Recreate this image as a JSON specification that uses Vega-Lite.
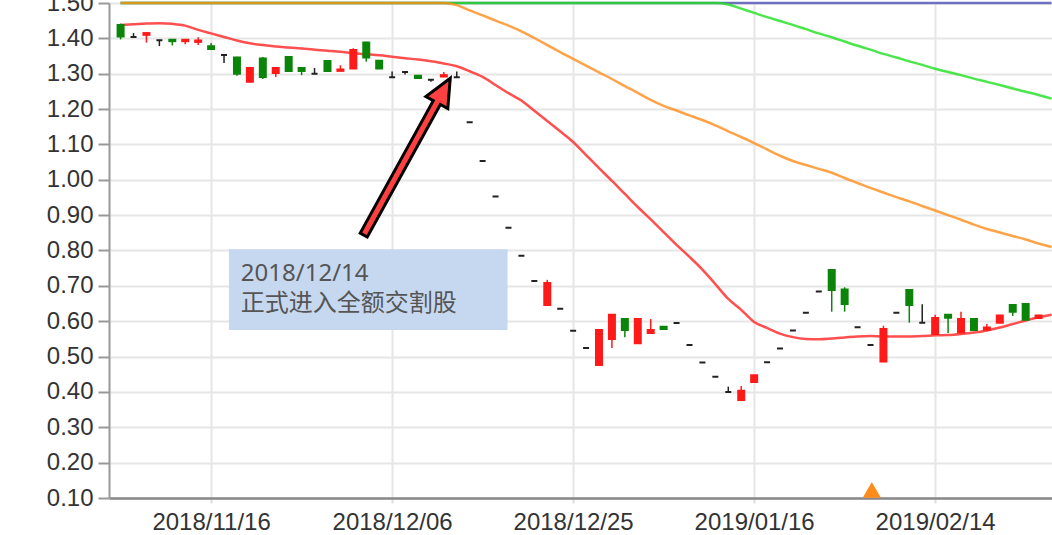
{
  "$schema": "https://vega.github.io/schema/vega-lite/v6.json",
  "width": 943,
  "height": 495,
  "autosize": {"type": "none"},
  "padding": {"left": 109, "top": 3, "right": 0, "bottom": 37},
  "background": "white",
  "config": {
    "view": {"stroke": null},
    "axisY": {
      "title": null,
      "grid": true,
      "gridColor": "#e6e6e6",
      "gridWidth": 2,
      "domainColor": "#999999",
      "domainWidth": 2,
      "tickColor": "#999999",
      "tickSize": 11,
      "tickWidth": 2,
      "labelFont": "Liberation Sans",
      "labelFontSize": 24,
      "labelColor": "#333333",
      "labelPadding": 5,
      "format": ".2f"
    }
  },
  "datasets": {
    "k": [
      {"date":"2018/11/07","i":0,"open":1.438,"high":1.442,"low":1.397,"close":1.405,"ma20":1.438,"ma60":1.640,"ma120":1.784,"ma240":1.950},
      {"date":"2018/11/08","i":1,"open":1.404,"high":1.415,"low":1.404,"close":1.404,"ma20":1.440,"ma60":1.635,"ma120":1.778,"ma240":1.948},
      {"date":"2018/11/09","i":2,"open":1.410,"high":1.415,"low":1.388,"close":1.415,"ma20":1.442,"ma60":1.630,"ma120":1.772,"ma240":1.947},
      {"date":"2018/11/12","i":3,"open":1.395,"high":1.395,"low":1.378,"close":1.395,"ma20":1.443,"ma60":1.625,"ma120":1.766,"ma240":1.945},
      {"date":"2018/11/13","i":4,"open":1.396,"high":1.396,"low":1.380,"close":1.392,"ma20":1.441,"ma60":1.620,"ma120":1.760,"ma240":1.944},
      {"date":"2018/11/14","i":5,"open":1.392,"high":1.396,"low":1.383,"close":1.396,"ma20":1.436,"ma60":1.615,"ma120":1.754,"ma240":1.942},
      {"date":"2018/11/15","i":6,"open":1.390,"high":1.403,"low":1.381,"close":1.394,"ma20":1.424,"ma60":1.610,"ma120":1.748,"ma240":1.941},
      {"date":"2018/11/16","i":7,"open":1.378,"high":1.387,"low":1.370,"close":1.370,"ma20":1.414,"ma60":1.605,"ma120":1.742,"ma240":1.939},
      {"date":"2018/11/19","i":8,"open":1.353,"high":1.353,"low":1.330,"close":1.353,"ma20":1.404,"ma60":1.600,"ma120":1.736,"ma240":1.938},
      {"date":"2018/11/20","i":9,"open":1.346,"high":1.348,"low":1.294,"close":1.300,"ma20":1.394,"ma60":1.595,"ma120":1.730,"ma240":1.936},
      {"date":"2018/11/21","i":10,"open":1.277,"high":1.316,"low":1.275,"close":1.316,"ma20":1.386,"ma60":1.590,"ma120":1.724,"ma240":1.935},
      {"date":"2018/11/22","i":11,"open":1.343,"high":1.347,"low":1.285,"close":1.291,"ma20":1.381,"ma60":1.585,"ma120":1.718,"ma240":1.933},
      {"date":"2018/11/23","i":12,"open":1.302,"high":1.316,"low":1.291,"close":1.316,"ma20":1.377,"ma60":1.580,"ma120":1.712,"ma240":1.932},
      {"date":"2018/11/26","i":13,"open":1.347,"high":1.349,"low":1.305,"close":1.308,"ma20":1.374,"ma60":1.575,"ma120":1.706,"ma240":1.930},
      {"date":"2018/11/27","i":14,"open":1.316,"high":1.316,"low":1.296,"close":1.308,"ma20":1.371,"ma60":1.570,"ma120":1.700,"ma240":1.929},
      {"date":"2018/11/28","i":15,"open":1.300,"high":1.316,"low":1.300,"close":1.300,"ma20":1.368,"ma60":1.565,"ma120":1.694,"ma240":1.927},
      {"date":"2018/11/29","i":16,"open":1.336,"high":1.338,"low":1.305,"close":1.308,"ma20":1.365,"ma60":1.560,"ma120":1.688,"ma240":1.926},
      {"date":"2018/11/30","i":17,"open":1.308,"high":1.324,"low":1.308,"close":1.312,"ma20":1.362,"ma60":1.555,"ma120":1.682,"ma240":1.924},
      {"date":"2018/12/03","i":18,"open":1.315,"high":1.372,"low":1.315,"close":1.367,"ma20":1.358,"ma60":1.550,"ma120":1.676,"ma240":1.923},
      {"date":"2018/12/04","i":19,"open":1.388,"high":1.390,"low":1.334,"close":1.346,"ma20":1.355,"ma60":1.545,"ma120":1.670,"ma240":1.921},
      {"date":"2018/12/05","i":20,"open":1.337,"high":1.337,"low":1.315,"close":1.315,"ma20":1.352,"ma60":1.540,"ma120":1.664,"ma240":1.920},
      {"date":"2018/12/06","i":21,"open":1.290,"high":1.306,"low":1.290,"close":1.290,"ma20":1.348,"ma60":1.535,"ma120":1.658,"ma240":1.918},
      {"date":"2018/12/07","i":22,"open":1.305,"high":1.307,"low":1.298,"close":1.305,"ma20":1.344,"ma60":1.530,"ma120":1.652,"ma240":1.917},
      {"date":"2018/12/10","i":23,"open":1.294,"high":1.294,"low":1.288,"close":1.288,"ma20":1.340,"ma60":1.525,"ma120":1.646,"ma240":1.915},
      {"date":"2018/12/11","i":24,"open":1.283,"high":1.285,"low":1.277,"close":1.283,"ma20":1.335,"ma60":1.518,"ma120":1.640,"ma240":1.914},
      {"date":"2018/12/12","i":25,"open":1.292,"high":1.305,"low":1.291,"close":1.296,"ma20":1.329,"ma60":1.508,"ma120":1.634,"ma240":1.912},
      {"date":"2018/12/13","i":26,"open":1.290,"high":1.306,"low":1.290,"close":1.290,"ma20":1.321,"ma60":1.494,"ma120":1.628,"ma240":1.911},
      {"date":"2018/12/14","i":27,"open":1.163,"high":1.163,"low":1.163,"close":1.163,"ma20":1.307,"ma60":1.479,"ma120":1.622,"ma240":1.909},
      {"date":"2018/12/17","i":28,"open":1.053,"high":1.053,"low":1.053,"close":1.053,"ma20":1.291,"ma60":1.465,"ma120":1.616,"ma240":1.908},
      {"date":"2018/12/18","i":29,"open":0.953,"high":0.953,"low":0.953,"close":0.953,"ma20":1.268,"ma60":1.450,"ma120":1.610,"ma240":1.906},
      {"date":"2018/12/19","i":30,"open":0.864,"high":0.864,"low":0.864,"close":0.864,"ma20":1.245,"ma60":1.436,"ma120":1.604,"ma240":1.905},
      {"date":"2018/12/20","i":31,"open":0.785,"high":0.785,"low":0.785,"close":0.785,"ma20":1.224,"ma60":1.420,"ma120":1.598,"ma240":1.903},
      {"date":"2018/12/21","i":32,"open":0.714,"high":0.714,"low":0.714,"close":0.714,"ma20":1.195,"ma60":1.401,"ma120":1.592,"ma240":1.902},
      {"date":"2018/12/22","i":33,"open":0.646,"high":0.717,"low":0.646,"close":0.708,"ma20":1.166,"ma60":1.381,"ma120":1.586,"ma240":1.900},
      {"date":"2018/12/24","i":34,"open":0.635,"high":0.635,"low":0.635,"close":0.635,"ma20":1.137,"ma60":1.361,"ma120":1.580,"ma240":1.899},
      {"date":"2018/12/25","i":35,"open":0.573,"high":0.573,"low":0.573,"close":0.573,"ma20":1.107,"ma60":1.342,"ma120":1.574,"ma240":1.897},
      {"date":"2018/12/26","i":36,"open":0.524,"high":0.524,"low":0.524,"close":0.524,"ma20":1.070,"ma60":1.323,"ma120":1.568,"ma240":1.896},
      {"date":"2018/12/27","i":37,"open":0.476,"high":0.575,"low":0.476,"close":0.575,"ma20":1.033,"ma60":1.304,"ma120":1.562,"ma240":1.894},
      {"date":"2018/12/28","i":38,"open":0.550,"high":0.620,"low":0.524,"close":0.618,"ma20":0.997,"ma60":1.285,"ma120":1.556,"ma240":1.893},
      {"date":"2019/01/02","i":39,"open":0.606,"high":0.606,"low":0.555,"close":0.575,"ma20":0.960,"ma60":1.265,"ma120":1.550,"ma240":1.891},
      {"date":"2019/01/03","i":40,"open":0.538,"high":0.606,"low":0.538,"close":0.606,"ma20":0.923,"ma60":1.246,"ma120":1.544,"ma240":1.890},
      {"date":"2019/01/04","i":41,"open":0.567,"high":0.606,"low":0.567,"close":0.575,"ma20":0.888,"ma60":1.226,"ma120":1.538,"ma240":1.888},
      {"date":"2019/01/07","i":42,"open":0.584,"high":0.584,"low":0.578,"close":0.578,"ma20":0.852,"ma60":1.209,"ma120":1.532,"ma240":1.887},
      {"date":"2019/01/08","i":43,"open":0.595,"high":0.595,"low":0.595,"close":0.595,"ma20":0.816,"ma60":1.196,"ma120":1.526,"ma240":1.885},
      {"date":"2019/01/09","i":44,"open":0.533,"high":0.533,"low":0.533,"close":0.533,"ma20":0.782,"ma60":1.182,"ma120":1.520,"ma240":1.884},
      {"date":"2019/01/10","i":45,"open":0.483,"high":0.483,"low":0.483,"close":0.483,"ma20":0.746,"ma60":1.169,"ma120":1.514,"ma240":1.882},
      {"date":"2019/01/11","i":46,"open":0.443,"high":0.443,"low":0.443,"close":0.443,"ma20":0.705,"ma60":1.154,"ma120":1.508,"ma240":1.881},
      {"date":"2019/01/14","i":47,"open":0.400,"high":0.415,"low":0.400,"close":0.400,"ma20":0.663,"ma60":1.137,"ma120":1.496,"ma240":1.879},
      {"date":"2019/01/15","i":48,"open":0.377,"high":0.417,"low":0.377,"close":0.403,"ma20":0.632,"ma60":1.121,"ma120":1.484,"ma240":1.878},
      {"date":"2019/01/16","i":49,"open":0.428,"high":0.448,"low":0.428,"close":0.447,"ma20":0.598,"ma60":1.104,"ma120":1.472,"ma240":1.876},
      {"date":"2019/01/17","i":50,"open":0.484,"high":0.484,"low":0.484,"close":0.484,"ma20":0.581,"ma60":1.086,"ma120":1.460,"ma240":1.875},
      {"date":"2019/01/18","i":51,"open":0.523,"high":0.523,"low":0.523,"close":0.523,"ma20":0.565,"ma60":1.068,"ma120":1.449,"ma240":1.873},
      {"date":"2019/01/21","i":52,"open":0.574,"high":0.574,"low":0.574,"close":0.574,"ma20":0.555,"ma60":1.053,"ma120":1.438,"ma240":1.872},
      {"date":"2019/01/22","i":53,"open":0.624,"high":0.624,"low":0.624,"close":0.624,"ma20":0.550,"ma60":1.042,"ma120":1.426,"ma240":1.870},
      {"date":"2019/01/23","i":54,"open":0.684,"high":0.684,"low":0.684,"close":0.684,"ma20":0.549,"ma60":1.031,"ma120":1.414,"ma240":1.869},
      {"date":"2019/01/24","i":55,"open":0.745,"high":0.745,"low":0.627,"close":0.688,"ma20":0.551,"ma60":1.020,"ma120":1.403,"ma240":1.867},
      {"date":"2019/01/25","i":56,"open":0.690,"high":0.696,"low":0.627,"close":0.649,"ma20":0.554,"ma60":1.005,"ma120":1.391,"ma240":1.866},
      {"date":"2019/01/28","i":57,"open":0.583,"high":0.583,"low":0.583,"close":0.583,"ma20":0.557,"ma60":0.991,"ma120":1.379,"ma240":1.864},
      {"date":"2019/01/29","i":58,"open":0.533,"high":0.533,"low":0.533,"close":0.533,"ma20":0.558,"ma60":0.977,"ma120":1.368,"ma240":1.863},
      {"date":"2019/01/30","i":59,"open":0.486,"high":0.587,"low":0.486,"close":0.578,"ma20":0.557,"ma60":0.964,"ma120":1.356,"ma240":1.861},
      {"date":"2019/02/11","i":60,"open":0.624,"high":0.624,"low":0.624,"close":0.624,"ma20":0.557,"ma60":0.951,"ma120":1.346,"ma240":1.860},
      {"date":"2019/02/12","i":61,"open":0.688,"high":0.690,"low":0.596,"close":0.646,"ma20":0.557,"ma60":0.939,"ma120":1.335,"ma240":1.858},
      {"date":"2019/02/13","i":62,"open":0.596,"high":0.648,"low":0.596,"close":0.596,"ma20":0.558,"ma60":0.926,"ma120":1.325,"ma240":1.857},
      {"date":"2019/02/14","i":63,"open":0.564,"high":0.618,"low":0.564,"close":0.609,"ma20":0.560,"ma60":0.913,"ma120":1.314,"ma240":1.855},
      {"date":"2019/02/15","i":64,"open":0.618,"high":0.618,"low":0.567,"close":0.610,"ma20":0.561,"ma60":0.900,"ma120":1.305,"ma240":1.854},
      {"date":"2019/02/18","i":65,"open":0.568,"high":0.627,"low":0.568,"close":0.606,"ma20":0.564,"ma60":0.887,"ma120":1.296,"ma240":1.852},
      {"date":"2019/02/19","i":66,"open":0.606,"high":0.606,"low":0.575,"close":0.575,"ma20":0.568,"ma60":0.873,"ma120":1.286,"ma240":1.851},
      {"date":"2019/02/20","i":67,"open":0.576,"high":0.592,"low":0.576,"close":0.582,"ma20":0.574,"ma60":0.861,"ma120":1.277,"ma240":1.849},
      {"date":"2019/02/21","i":68,"open":0.596,"high":0.616,"low":0.596,"close":0.616,"ma20":0.582,"ma60":0.851,"ma120":1.268,"ma240":1.848},
      {"date":"2019/02/22","i":69,"open":0.646,"high":0.646,"low":0.615,"close":0.627,"ma20":0.592,"ma60":0.841,"ma120":1.258,"ma240":1.846},
      {"date":"2019/02/25","i":70,"open":0.649,"high":0.649,"low":0.604,"close":0.604,"ma20":0.602,"ma60":0.831,"ma120":1.249,"ma240":1.845},
      {"date":"2019/02/26","i":71,"open":0.609,"high":0.618,"low":0.609,"close":0.616,"ma20":0.611,"ma60":0.820,"ma120":1.240,"ma240":1.843},
      {"date":"2019/02/27","i":72,"ma20":0.618,"ma60":0.810,"ma120":1.230,"ma240":1.842}
    ],
    "note": [
      {"i": 8.38, "i2": 29.93, "v": 0.8035, "v2": 0.5752, "ti": 9.3, "tv": 0.7138, "text": ["2018/12/14", "正式进入全额交割股"]}
    ],
    "arrow": [
      {"i": 22.15, "v": 1.0654}
    ],
    "signal": [
      {"i": 58.1, "v": 0.123}
    ]
  },
  "encoding": {
    "x": {
      "field": "i",
      "type": "quantitative",
      "scale": {"domain": [-0.51, 71.65], "nice": false, "zero": false},
      "axis": {
        "values": [7, 21, 35, 49, 63],
        "labelExpr": "datum.value == 7 ? '2018/11/16' : datum.value == 21 ? '2018/12/06' : datum.value == 35 ? '2018/12/25' : datum.value == 49 ? '2019/01/16' : '2019/02/14'",
        "title": null,
        "grid": true,
        "gridColor": "#e6e6e6",
        "gridWidth": 2,
        "domainColor": "#888888",
        "domainWidth": 2.5,
        "tickColor": "#dddddd",
        "tickSize": 5,
        "tickWidth": 2,
        "labelFont": "Liberation Sans",
        "labelFontSize": 24,
        "labelColor": "#333333",
        "labelPadding": 7,
        "labelFlush": false,
        "labelOverlap": false
      }
    }
  },
  "layer": [
    {
      "data": {"name": "note"},
      "mark": {"type": "rect", "fill": "#c6d8f0"},
      "encoding": {
        "x2": {"field": "i2"},
        "y": {"field": "v", "type": "quantitative", "scale": {"domain": [0.1, 1.5], "nice": false, "zero": false, "clamp": true}, "axis": {"title": null, "values": [0.1, 0.2, 0.3, 0.4, 0.5, 0.6, 0.7, 0.8, 0.9, 1.0, 1.1, 1.2, 1.3, 1.4, 1.5]}},
        "y2": {"field": "v2"}
      }
    },
    {
      "data": {"name": "k"},
      "mark": {"type": "line", "color": "#3a3ab0", "strokeWidth": 2.5, "opacity": 0.7, "interpolate": "monotone"},
      "encoding": {"y": {"field": "ma240", "type": "quantitative", "scale": {"domain": [0.1, 1.5], "nice": false, "zero": false, "clamp": true}, "axis": {"title": null, "values": [0.1, 0.2, 0.3, 0.4, 0.5, 0.6, 0.7, 0.8, 0.9, 1.0, 1.1, 1.2, 1.3, 1.4, 1.5]}}}
    },
    {
      "data": {"name": "k"},
      "mark": {"type": "line", "color": "#1ee01e", "strokeWidth": 2.5, "opacity": 0.8, "interpolate": "monotone"},
      "encoding": {"y": {"field": "ma120", "type": "quantitative", "scale": {"domain": [0.1, 1.5], "nice": false, "zero": false, "clamp": true}, "axis": {"title": null, "values": [0.1, 0.2, 0.3, 0.4, 0.5, 0.6, 0.7, 0.8, 0.9, 1.0, 1.1, 1.2, 1.3, 1.4, 1.5]}}}
    },
    {
      "data": {"name": "k"},
      "mark": {"type": "line", "color": "#ff8c1a", "strokeWidth": 2.5, "opacity": 0.8, "interpolate": "monotone"},
      "encoding": {"y": {"field": "ma60", "type": "quantitative", "scale": {"domain": [0.1, 1.5], "nice": false, "zero": false, "clamp": true}, "axis": {"title": null, "values": [0.1, 0.2, 0.3, 0.4, 0.5, 0.6, 0.7, 0.8, 0.9, 1.0, 1.1, 1.2, 1.3, 1.4, 1.5]}}}
    },
    {
      "data": {"name": "k"},
      "mark": {"type": "line", "color": "#ff3030", "strokeWidth": 2.5, "opacity": 0.85, "interpolate": "monotone"},
      "encoding": {"y": {"field": "ma20", "type": "quantitative", "scale": {"domain": [0.1, 1.5], "nice": false, "zero": false, "clamp": true}, "axis": {"title": null, "values": [0.1, 0.2, 0.3, 0.4, 0.5, 0.6, 0.7, 0.8, 0.9, 1.0, 1.1, 1.2, 1.3, 1.4, 1.5]}}}
    },
    {
      "data": {"name": "k"},
      "transform": [{"filter": "isValid(datum.open)"}],
      "mark": {"type": "rule", "strokeWidth": 1.5},
      "encoding": {
        "y": {"field": "low", "type": "quantitative", "scale": {"domain": [0.1, 1.5], "nice": false, "zero": false, "clamp": true}, "axis": {"title": null, "values": [0.1, 0.2, 0.3, 0.4, 0.5, 0.6, 0.7, 0.8, 0.9, 1.0, 1.1, 1.2, 1.3, 1.4, 1.5]}},
        "y2": {"field": "high"},
        "stroke": {
          "condition": [
            {"test": "datum.close > datum.open", "value": "#ff1a1a"},
            {"test": "datum.close < datum.open", "value": "#0a850a"}
          ],
          "value": "#222222"
        }
      }
    },
    {
      "data": {"name": "k"},
      "transform": [{"filter": "isValid(datum.open)"}],
      "mark": {"type": "bar", "width": 6, "strokeWidth": 2},
      "encoding": {
        "y": {"field": "open", "type": "quantitative", "scale": {"domain": [0.1, 1.5], "nice": false, "zero": false, "clamp": true}, "axis": {"title": null, "values": [0.1, 0.2, 0.3, 0.4, 0.5, 0.6, 0.7, 0.8, 0.9, 1.0, 1.1, 1.2, 1.3, 1.4, 1.5]}},
        "y2": {"field": "close"},
        "fill": {
          "condition": [
            {"test": "datum.close > datum.open", "value": "#ff1a1a"},
            {"test": "datum.close < datum.open", "value": "#0a850a"}
          ],
          "value": "#222222"
        },
        "stroke": {
          "condition": [
            {"test": "datum.close > datum.open", "value": "#ff1a1a"},
            {"test": "datum.close < datum.open", "value": "#0a850a"}
          ],
          "value": "#222222"
        }
      }
    },
    {
      "data": {"name": "signal"},
      "mark": {"type": "point", "shape": "triangle-up", "size": 330, "filled": true, "fill": "#ff8c1a", "opacity": 1, "strokeWidth": 0},
      "encoding": {"y": {"field": "v", "type": "quantitative", "scale": {"domain": [0.1, 1.5], "nice": false, "zero": false, "clamp": true}, "axis": {"title": null, "values": [0.1, 0.2, 0.3, 0.4, 0.5, 0.6, 0.7, 0.8, 0.9, 1.0, 1.1, 1.2, 1.3, 1.4, 1.5]}}}
    },
    {
      "data": {"name": "arrow"},
      "mark": {
        "type": "point",
        "shape": "M0,-1L0.14,-0.69L0.045,-0.69L0.045,1L-0.045,1L-0.045,-0.69L-0.14,-0.69Z",
        "size": 32041,
        "angle": 28.9,
        "filled": true,
        "fill": "#ff4040",
        "stroke": "#000000",
        "strokeWidth": 3,
        "strokeJoin": "miter",
        "opacity": 1
      },
      "encoding": {"y": {"field": "v", "type": "quantitative", "scale": {"domain": [0.1, 1.5], "nice": false, "zero": false, "clamp": true}, "axis": {"title": null, "values": [0.1, 0.2, 0.3, 0.4, 0.5, 0.6, 0.7, 0.8, 0.9, 1.0, 1.1, 1.2, 1.3, 1.4, 1.5]}}}
    },
    {
      "data": {"name": "note"},
      "mark": {"type": "text", "align": "left", "baseline": "alphabetic", "lineHeight": 30, "font": "Noto Sans, Noto Sans CJK SC", "fontSize": 24, "color": "#555555"},
      "encoding": {
        "x": {"field": "ti", "type": "quantitative"},
        "y": {"field": "tv", "type": "quantitative", "scale": {"domain": [0.1, 1.5], "nice": false, "zero": false, "clamp": true}, "axis": {"title": null, "values": [0.1, 0.2, 0.3, 0.4, 0.5, 0.6, 0.7, 0.8, 0.9, 1.0, 1.1, 1.2, 1.3, 1.4, 1.5]}},
        "text": {"field": "text"}
      }
    }
  ]
}
